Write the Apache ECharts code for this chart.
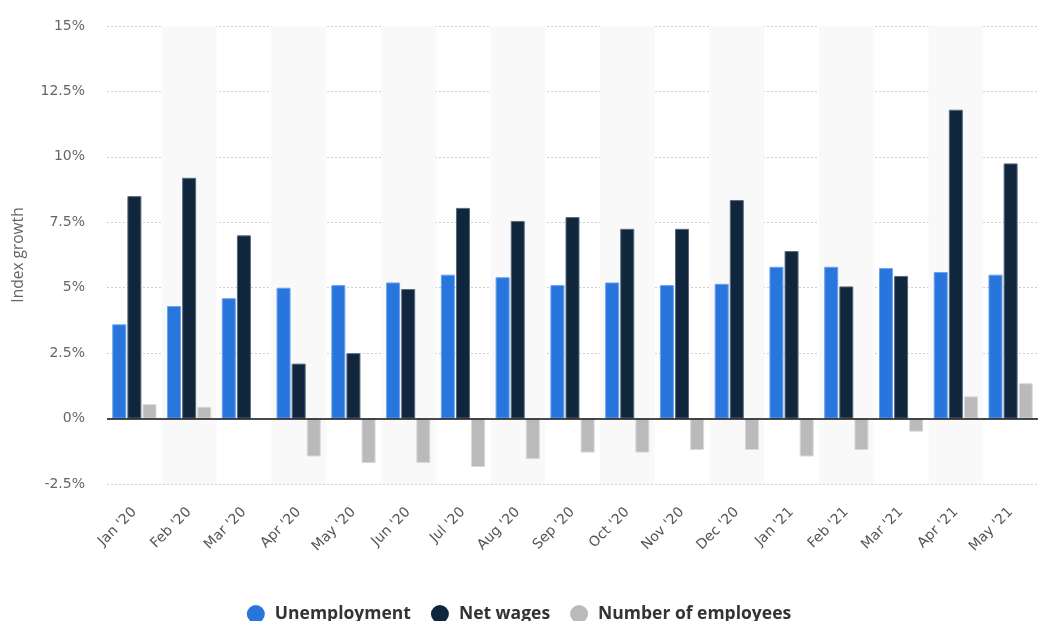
<!DOCTYPE html>
<html>
<head>
<meta charset="utf-8">
<script src="https://cdn.jsdelivr.net/npm/echarts@6/dist/echarts.min.js"></script>
<style>
html,body{margin:0;padding:0;background:#fff;}
#chart{width:1038px;height:621px;}
</style>
</head>
<body>
<div id="chart"></div>
<script>
var categories = ["Jan '20","Feb '20","Mar '20","Apr '20","May '20","Jun '20","Jul '20","Aug '20","Sep '20","Oct '20","Nov '20","Dec '20","Jan '21","Feb '21","Mar '21","Apr '21","May '21"];
var unemployment = [3.6, 4.3, 4.6, 5.0, 5.1, 5.2, 5.5, 5.4, 5.1, 5.2, 5.1, 5.15, 5.8, 5.8, 5.75, 5.6, 5.5];
var netWages = [8.5, 9.2, 7.0, 2.1, 2.5, 4.95, 8.05, 7.55, 7.7, 7.25, 7.25, 8.35, 6.4, 5.05, 5.45, 11.8, 9.75];
var employees = [0.55, 0.45, null, -1.45, -1.7, -1.7, -1.85, -1.55, -1.3, -1.3, -1.2, -1.2, -1.45, -1.2, -0.5, 0.85, 1.35];
var yTicks = {min: -2.5, max: 15, interval: 2.5};

var chart = echarts.init(document.getElementById('chart'));
function barSeries(name, data, color, border) {
  return {
    name: name, type: 'bar', data: data,
    barWidth: 14, barGap: '8%',
    itemStyle: {color: color, borderColor: border, borderWidth: 1},
    emphasis: {disabled: true}
  };
}
var FONT = 'Open Sans';
var AXFONT = 'DejaVu Sans';
chart.setOption({
  animation: false,
  grid: {left: 107, right: -4, top: 26, bottom: 137},
  legend: {
    bottom: -7, left: 'center', icon: 'circle', itemWidth: 18, itemHeight: 18, itemGap: 20,
    itemStyle: {borderWidth: 0},
    textStyle: {fontSize: 17.5, fontWeight: 'bold', color: '#333', fontFamily: FONT, padding: [0, 0, 0, 5]},
    data: ['Unemployment', 'Net wages', 'Number of employees']
  },
  xAxis: {
    type: 'category', data: categories,
    axisLine: {show: false}, axisTick: {show: false},
    splitArea: {show: true, areaStyle: {color: ['rgba(255,255,255,0)', '#f9f9f9']}},
    axisLabel: {rotate: 45, color: '#555', fontSize: 14, fontFamily: AXFONT, margin: 26, interval: 0}
  },
  yAxis: {
    type: 'value', min: yTicks.min, max: yTicks.max, interval: yTicks.interval,
    name: 'Index growth', nameLocation: 'middle', nameGap: 80,
    nameTextStyle: {color: '#666', fontSize: 15.5, fontFamily: FONT},
    axisLine: {show: false}, axisTick: {show: false},
    axisLabel: {color: '#666', fontSize: 14, fontFamily: AXFONT, margin: 22, formatter: function(v){return v + '%';}},
    splitLine: {lineStyle: {color: '#cfcfcf', type: [2, 2], width: 1}}
  },
  series: [
    barSeries('Unemployment', unemployment, '#2876dd', '#6aa3ee'),
    barSeries('Net wages', netWages, '#10263d', '#5a6a7c'),
    Object.assign(barSeries('Number of employees', employees, '#bababa', '#d9d9d9'), {
      markLine: {
        silent: true, symbol: 'none', label: {show: false},
        lineStyle: {color: '#111', type: 'solid', width: 1.5},
        data: [{yAxis: 0}]
      }
    })
  ]
});
</script>
</body>
</html>
